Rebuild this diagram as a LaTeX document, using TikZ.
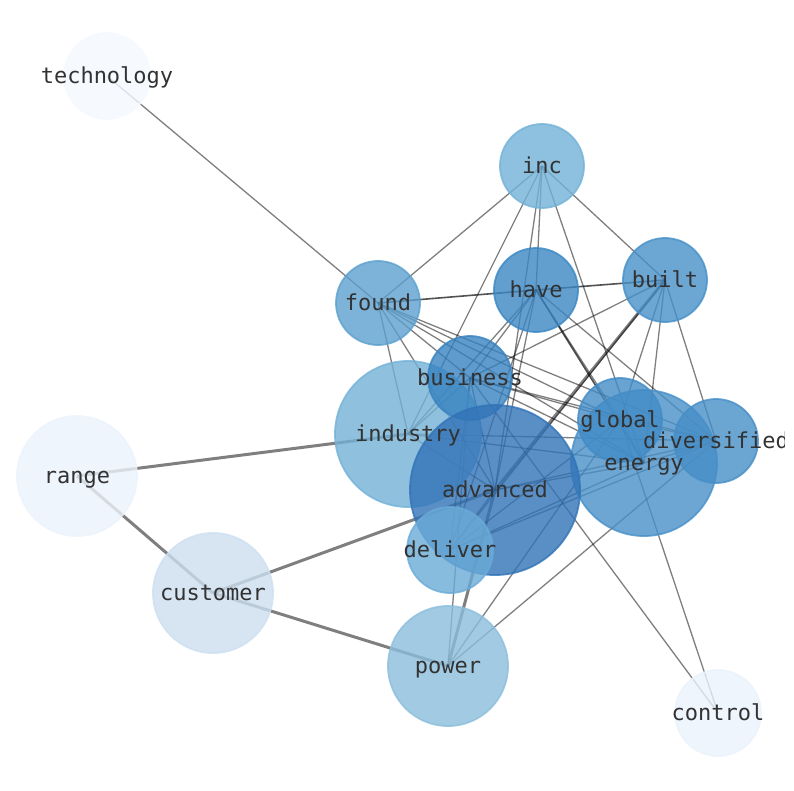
\documentclass[tikz,border=0pt]{standalone}
\usepackage{fontspec}
\setmonofont{DejaVu Sans Mono}
\pgfdeclarelayer{edges}
\pgfdeclarelayer{labels}
\pgfsetlayers{edges,main,labels}
\definecolor{ctech}{RGB}{244,249,255}
\definecolor{cinc}{RGB}{114,178,215}
\definecolor{cfound}{RGB}{92,160,206}
\definecolor{chave}{RGB}{59,135,195}
\definecolor{cbuilt}{RGB}{71,144,200}
\definecolor{cbus}{RGB}{55,130,193}
\definecolor{cind}{RGB}{115,178,215}
\definecolor{cglob}{RGB}{66,140,199}
\definecolor{cener}{RGB}{72,144,200}
\definecolor{cdiv}{RGB}{70,142,199}
\definecolor{cadv}{RGB}{49,115,183}
\definecolor{cdel}{RGB}{106,171,215}
\definecolor{cpow}{RGB}{139,190,220}
\definecolor{crange}{RGB}{235,243,251}
\definecolor{ccust}{RGB}{205,223,240}
\definecolor{cctrl}{RGB}{234,242,251}
\definecolor{textc}{RGB}{50,50,50}
\begin{document}
\begin{tikzpicture}[x=1pt,y=-1pt,
  vtx/.style={circle, inner sep=0pt, minimum size=#1, fill opacity=0.8, draw opacity=0.8, line width=1.8pt},
  lbl/.style={inner sep=0pt, text=textc, text height=15.5pt, text depth=1.5pt, font=\ttfamily\fontsize{22}{26}\selectfont},
  e/.style={draw=black, opacity=0.5, line width=1.3pt},
  ethick/.style={draw=black, opacity=0.5, line width=3pt},
  edark/.style={draw=black, opacity=0.68, line width=1.6pt}]
\useasboundingbox (0,0) rectangle (794,790);
% nodes (circles)
\node[vtx=86pt, fill=ctech, draw=ctech] (technology) at (107,76) {};
\node[vtx=84pt, fill=cinc, draw=cinc] (inc) at (542,166) {};
\node[vtx=84pt, fill=cfound, draw=cfound] (found) at (378,303) {};
\node[vtx=84pt, fill=chave, draw=chave] (have) at (536,290) {};
\node[vtx=84pt, fill=cbuilt, draw=cbuilt] (built) at (665,280) {};
\node[vtx=146pt, fill=cind, draw=cind] (industry) at (408,434) {};
\node[vtx=84pt, fill=cbus, draw=cbus] (business) at (470,378) {};
\node[vtx=146pt, fill=cener, draw=cener] (energy) at (644,463) {};
\node[vtx=84pt, fill=cglob, draw=cglob] (global) at (620,420) {};
\node[vtx=84pt, fill=cdiv, draw=cdiv] (diversified) at (716,441) {};
\node[vtx=170pt, fill=cadv, draw=cadv] (advanced) at (495,490) {};
\node[vtx=86pt, fill=cdel, draw=cdel] (deliver) at (450,550) {};
\node[vtx=120pt, fill=cpow, draw=cpow] (power) at (448,666) {};
\node[vtx=120pt, fill=crange, draw=crange] (range) at (77,476) {};
\node[vtx=120pt, fill=ccust, draw=ccust] (customer) at (213,593) {};
\node[vtx=86pt, fill=cctrl, draw=cctrl] (control) at (718,713) {};
% edges
\begin{pgfonlayer}{edges}
\draw[e] (technology.center) -- (found.center);
\draw[ethick] (range.center) -- (industry.center);
\draw[ethick] (range.center) -- (customer.center);
\draw[ethick] (customer.center) -- (advanced.center);
\draw[ethick] (customer.center) -- (power.center);
\draw[ethick] (power.center) -- (advanced.center);
\draw[ethick] (built.center) -- (advanced.center);
\draw[e] (inc.center) -- (found.center);
\draw[e] (inc.center) -- (industry.center);
\draw[e] (inc.center) -- (advanced.center);
\draw[e] (inc.center) -- (have.center);
\draw[e] (inc.center) -- (energy.center);
\draw[e] (inc.center) -- (built.center);
\draw[edark] (found.center) -- (have.center);
\draw[edark] (have.center) -- (built.center);
\draw[e] (found.center) -- (industry.center);
\draw[e] (found.center) -- (business.center);
\draw[e] (found.center) -- (advanced.center);
\draw[e] (found.center) -- (global.center);
\draw[e] (found.center) -- (energy.center);
\draw[e] (found.center) -- (diversified.center);
\draw[e] (have.center) -- (business.center);
\draw[e] (have.center) -- (advanced.center);
\draw[e] (have.center) -- (deliver.center);
\draw[e] (have.center) -- (industry.center);
\draw[edark] (have.center) -- (energy.center);
\draw[e] (have.center) -- (global.center);
\draw[e] (have.center) -- (diversified.center);
\draw[e] (built.center) -- (business.center);
\draw[e] (built.center) -- (global.center);
\draw[e] (built.center) -- (energy.center);
\draw[e] (built.center) -- (diversified.center);
\draw[e] (built.center) -- (deliver.center);
\draw[e] (business.center) -- (global.center);
\draw[e] (business.center) -- (energy.center);
\draw[e] (business.center) -- (diversified.center);
\draw[e] (business.center) -- (deliver.center);
\draw[e] (business.center) -- (advanced.center);
\draw[e] (business.center) -- (industry.center);
\draw[e] (business.center) -- (control.center);
\draw[e] (business.center) -- (power.center);
\draw[e] (global.center) -- (control.center);
\draw[e] (power.center) -- (global.center);
\draw[e] (power.center) -- (diversified.center);
\draw[e] (advanced.center) -- (energy.center);
\draw[e] (advanced.center) -- (diversified.center);
\draw[e] (deliver.center) -- (energy.center);
\draw[e] (deliver.center) -- (diversified.center);
\draw[e] (deliver.center) -- (global.center);
\draw[e] (industry.center) -- (energy.center);
\draw[e] (industry.center) -- (diversified.center);
\draw[e] (global.center) -- (energy.center);
\draw[e] (energy.center) -- (diversified.center);
\draw[e] (global.center) -- (diversified.center);
\draw[e] (industry.center) -- (advanced.center);
\draw[e] (advanced.center) -- (deliver.center);
\end{pgfonlayer}
% labels
\begin{pgfonlayer}{labels}
\begin{scope}
\clip (0,0) rectangle (784,790);
\node[lbl] (l-technology) at (technology) {technology};
\node[lbl] (l-inc) at (inc) {inc};
\node[lbl] (l-found) at (found) {found};
\node[lbl] (l-have) at (have) {have};
\node[lbl] (l-built) at (built) {built};
\node[lbl] (l-industry) at (industry) {industry};
\node[lbl] (l-business) at (business) {business};
\node[lbl] (l-energy) at (energy) {energy};
\node[lbl] (l-global) at (global) {global};
\node[lbl] (l-diversified) at (diversified) {diversified};
\node[lbl] (l-advanced) at (advanced) {advanced};
\node[lbl] (l-deliver) at (deliver) {deliver};
\node[lbl] (l-power) at (power) {power};
\node[lbl] (l-range) at (range) {range};
\node[lbl] (l-customer) at (customer) {customer};
\node[lbl] (l-control) at (control) {control};
\end{scope}
\end{pgfonlayer}
\end{tikzpicture}
\end{document}
